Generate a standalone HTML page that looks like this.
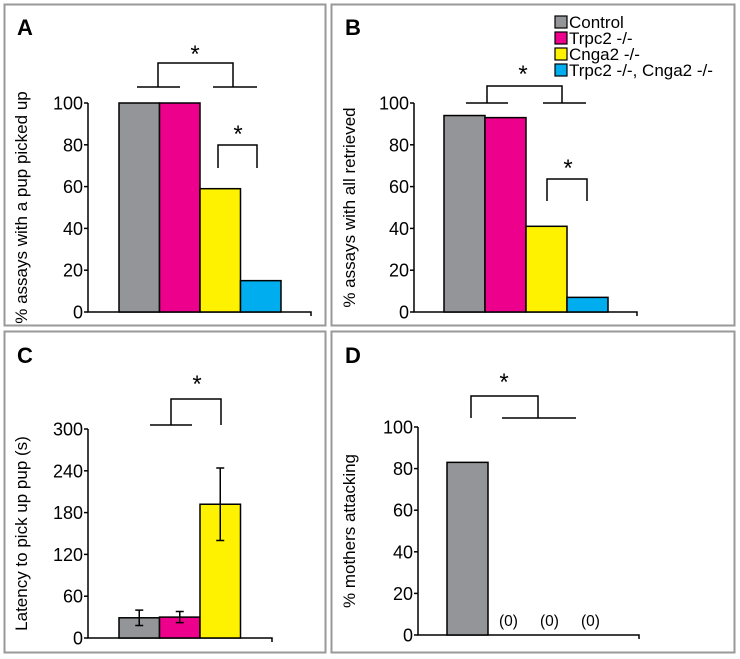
<!DOCTYPE html>
<html><head><meta charset="utf-8"><style>
html,body{margin:0;padding:0;background:#fff}
svg{display:block;font-family:"Liberation Sans",Arial,sans-serif}
</style></head><body>
<svg id="fig" width="740" height="659" viewBox="0 0 740 659">
<rect x="4.5" y="4.5" width="321" height="321" fill="none" stroke="#999" stroke-width="2"/>
<rect x="331.5" y="4.5" width="403" height="321" fill="none" stroke="#999" stroke-width="2"/>
<rect x="4.5" y="331.5" width="321" height="321" fill="none" stroke="#999" stroke-width="2"/>
<rect x="331.5" y="331.5" width="403" height="321" fill="none" stroke="#999" stroke-width="2"/>
<g id="legend"></g>
</svg>
<script>
const groups = ["Control","Trpc2 -/-","Cnga2 -/-","Trpc2 -/-, Cnga2 -/-"];
const colors = ["#939598","#ec008c","#fff200","#00aeef"];
const valuesA = [100,100,59,15];
const valuesB = [94,93,41,7];
const valuesC = [29,30,192];
const errorsC = [11,8,52];
const valuesD = [83,0,0,0];
const ticksPct = [0,20,40,60,80,100];
const ticksC = [0,60,120,180,240,300];

const svg = document.getElementById('fig');
const NS = 'http://www.w3.org/2000/svg';
function el(tag, attrs, parent){const e=document.createElementNS(NS,tag);for(const k in attrs)e.setAttribute(k,attrs[k]);(parent||svg).appendChild(e);return e;}

function panel(p){
  const g = el('g',{});
  
  
  const y = v => p.y0 - (v/p.max)*(p.y0-p.y1);
  const lt = el('text',{x:p.lx,y:p.ly,'font-size':22,'font-weight':'bold'},g);
  lt.textContent = p.id.toUpperCase();
  
  
  const ax = el('path',{d:`M${p.ax} ${p.y1}V${p.y0}H${p.axEnd}V${p.y0+4}`,fill:'none',stroke:'#000','stroke-width':1.5},g);
  
  
  p.ticks.forEach(t=>{
    const tk = el('line',{x1:p.ax-4,x2:p.ax,y1:y(t),y2:y(t),stroke:'#000','stroke-width':1.5},g);
    
    
    const tl = el('text',{x:p.ax-5,y:y(t)+6.5,'font-size':18,'text-anchor':'end'},g);
    tl.textContent = t;
    
    
  });
  const yt = el('text',{transform:`translate(${p.tx},${(p.y0+p.y1)/2}) rotate(-90)`,'font-size':17,'text-anchor':'middle'},g);
  yt.textContent = p.title;
  
  
  p.vals.forEach((v,i)=>{
    const x = p.bx + i*p.bw;
    if(p.zeroLabel && v===0){
      const zl = el('text',{x:x+p.bw/2,y:p.y0-9,'font-size':15.5,'text-anchor':'middle'},g);
      zl.textContent='(0)';
      
      
      return;
    }
    const r = el('rect',{x:x,y:y(v),width:p.bw,height:p.y0-y(v),fill:colors[i],stroke:'#000','stroke-width':1.5},g);
    
    
    if(p.err){
      const e=p.err[i], cx=x+p.bw/2;
      const eb = el('path',{d:`M${cx} ${y(v+e)}V${y(v-e)}M${cx-4} ${y(v+e)}H${cx+4}M${cx-4} ${y(v-e)}H${cx+4}`,stroke:'#000','stroke-width':1.5,fill:'none'},g);
      
      
    }
  });
  p.brackets.forEach(b=>{
    const bp = el('path',{d:b.d,fill:'none',stroke:'#000','stroke-width':1.5},g);
    
    
    const s = el('text',{x:b.sx,y:b.sy,'font-size':24,'text-anchor':'middle'},g);
    s.textContent='*';
    
    
  });
}

panel({id:'a',lx:17,ly:35,ax:88,axEnd:311,y0:312,y1:103,max:100,ticks:ticksPct,tx:27,
  title:'% assays with a pup picked up',vals:valuesA,bx:119,bw:40.5,
  brackets:[{d:'M137 87H180M213 87H257M158 87V63H233V87',sx:195,sy:62}]
  .concat([{d:'M218 168V145H257V168',sx:238,sy:142}])});
panel({id:'b',lx:345,ly:35,ax:414,axEnd:637,y0:312,y1:103,max:100,ticks:ticksPct,tx:355,
  title:'% assays with all retrieved',vals:valuesB,bx:444,bw:41,
  brackets:[{d:'M466 103H508M543 103H586M487 103V86H562V103',sx:523,sy:82},{d:'M547 201V179H587V201',sx:568,sy:176}]});
panel({id:'c',lx:17,ly:363,ax:88,axEnd:272,y0:638,y1:429,max:300,ticks:ticksC,tx:27,
  title:'Latency to pick up pup (s)',vals:valuesC,err:errorsC,bx:119,bw:40.5,
  brackets:[{d:'M150 425H192M171 425V399H221V425',sx:197,sy:392}]});
panel({id:'d',lx:345,ly:363,ax:418,axEnd:639,y0:635,y1:427,max:100,ticks:ticksPct,tx:355,
  title:'% mothers attacking',vals:valuesD,zeroLabel:true,bx:447,bw:41,
  brackets:[{d:'M471 418V396H538V418M502 418H576',sx:504,sy:390}]});

const lg = document.getElementById('legend');
groups.forEach((n,i)=>{
  const cy = 22 + i*16;
  const sw = el('rect',{x:555,y:cy-6,width:12,height:12,fill:colors[i],stroke:'#000','stroke-width':1.2},lg);
  
  
  const t = el('text',{x:569,y:cy+6,'font-size':17},lg);
  t.textContent = n;
  
  
});
</script>
</body></html>
